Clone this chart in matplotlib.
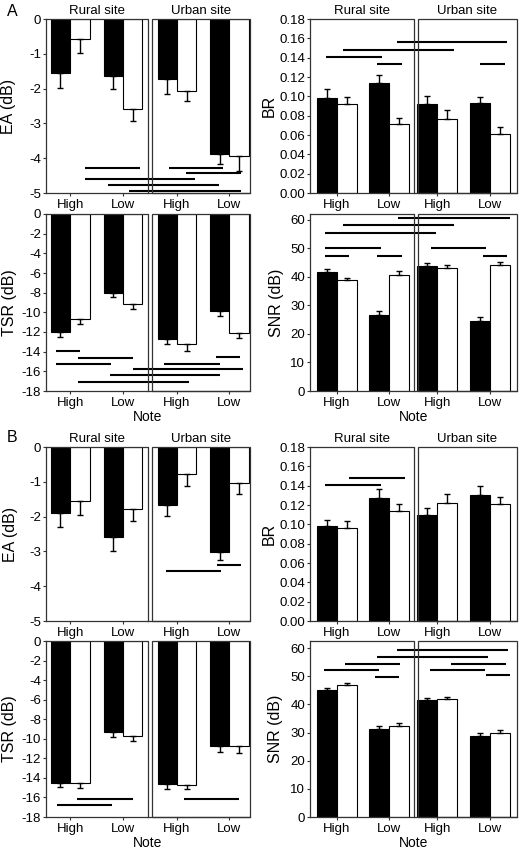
import numpy as np
import matplotlib.pyplot as plt
from matplotlib.patches import Rectangle
from matplotlib.transforms import blended_transform_factory

plt.rcParams['font.family'] = ['Liberation Sans', 'DejaVu Sans']
plt.rcParams['axes.unicode_minus'] = False

notes = ['High', 'Low', 'High', 'Low']
sites = ['Rural site', 'Urban site']

# group order: rural high, rural low, urban high, urban low
# black = first bar of each pair, white = second bar
a_ea_black = [-1.56, -1.64, -1.73, -3.88]
a_ea_black_err = [0.43, 0.37, 0.43, 0.29]
a_ea_white = [-0.575, -2.59, -2.06, -3.94]
a_ea_white_err = [0.40, 0.34, 0.29, 0.42]

a_br_black = [0.098, 0.114, 0.0923, 0.0933]
a_br_black_err = [0.010, 0.0084, 0.0085, 0.0065]
a_br_white = [0.092, 0.0717, 0.077, 0.0614]
a_br_white_err = [0.007, 0.0063, 0.0084, 0.0065]

a_tsr_black = [-12.02, -8.05, -12.67, -9.85]
a_tsr_black_err = [0.48, 0.44, 0.58, 0.48]
a_tsr_white = [-10.63, -9.17, -13.25, -12.06]
a_tsr_white_err = [0.58, 0.48, 0.64, 0.51]

a_snr_black = [41.7, 26.8, 44.0, 24.7]
a_snr_black_err = [1.2, 1.4, 1.0, 1.25]
a_snr_white = [38.8, 40.8, 43.1, 44.2]
a_snr_white_err = [0.9, 1.2, 1.1, 1.1]

b_ea_black = [-1.89, -2.58, -1.68, -3.01]
b_ea_black_err = [0.40, 0.41, 0.29, 0.25]
b_ea_white = [-1.54, -1.78, -0.77, -1.04]
b_ea_white_err = [0.40, 0.35, 0.34, 0.31]

b_br_black = [0.0983, 0.1268, 0.1098, 0.1303]
b_br_black_err = [0.0067, 0.0101, 0.0073, 0.0094]
b_br_white = [0.0966, 0.1143, 0.1216, 0.1206]
b_br_white_err = [0.0069, 0.007, 0.0101, 0.008]

b_tsr_black = [-14.49, -9.34, -14.66, -10.77]
b_tsr_black_err = [0.44, 0.48, 0.51, 0.58]
b_tsr_white = [-14.49, -9.75, -14.69, -10.77]
b_tsr_white_err = [0.51, 0.51, 0.48, 0.65]

b_snr_black = [45.2, 31.4, 41.4, 28.8]
b_snr_black_err = [0.7, 1.0, 1.0, 1.1]
b_snr_white = [47.0, 32.3, 41.8, 29.8]
b_snr_white_err = [0.6, 1.0, 0.9, 1.0]

# significance lines: (x start, x end, y)
a_ea_sig = [(2.01, 4.84, -4.27), (6.33, 9.11, -4.27), (7.21, 10.04, -4.43),
            (2.01, 7.67, -4.59), (3.19, 8.90, -4.77), (4.27, 10.04, -4.93)]
a_br_sig = [(4.42, 10.0, 0.1557), (1.68, 7.31, 0.148), (0.81, 3.65, 0.141),
            (3.40, 4.67, 0.133), (8.63, 9.90, 0.133)]
a_tsr_sig = [(0.51, 1.75, -13.93), (1.63, 4.48, -14.67), (0.51, 3.35, -15.25),
             (6.09, 8.96, -15.25), (8.75, 9.98, -14.57), (4.46, 10.15, -15.8),
             (3.29, 8.96, -16.4), (1.66, 7.37, -17.05)]
a_snr_sig = [(4.48, 10.12, 60.7), (1.66, 7.28, 58.2), (0.76, 6.38, 55.5),
             (0.76, 3.59, 50.3), (0.76, 2.0, 47.4), (3.39, 4.66, 47.4),
             (6.13, 8.93, 50.3), (8.77, 9.98, 47.2)]
b_ea_sig = [(6.16, 9.01, -3.57), (8.79, 10.02, -3.40)]
b_br_sig = [(0.76, 3.59, 0.1407), (2.0, 4.82, 0.1477)]
b_tsr_sig = [(1.58, 4.46, -16.13), (0.55, 3.38, -16.81), (7.12, 9.95, -16.2)]
b_snr_sig = [(4.40, 10.02, 59.2), (3.39, 9.02, 56.9), (1.78, 4.57, 54.4),
             (0.71, 3.52, 52.1), (3.30, 4.50, 49.6), (7.14, 9.95, 54.4),
             (6.09, 8.88, 52.3), (8.92, 10.12, 50.3)]

# layout (x in bar-width units)
centers_left = np.array([1.24, 3.96, 6.74, 9.44])
centers_right = np.array([1.37, 4.01, 6.45, 9.14])
box_left = (5.25, 5.46)
box_right = (5.28, 5.48)
XMAX = 10.5

fig = plt.figure(figsize=(5.26, 8.52), dpi=100)


def panel(rect, centers, box, black, black_err, white, white_err, sig,
          ylim, yticks, ylabel, fmt, label_x, titles=False, xlabel=False):
    ax = fig.add_axes(rect)
    ymin, ymax = ylim
    black = np.array(black)
    white = np.array(white)
    for vals, errs, x, fc in [(black, black_err, centers - 0.5, 'black'),
                              (white, white_err, centers + 0.5, 'white')]:
        errs = np.array(errs)
        lower = np.where(vals < 0, errs, 0)
        upper = np.where(vals < 0, 0, errs)
        ax.bar(x, vals, width=1.0, color=fc, edgecolor='black', linewidth=0.8, zorder=2)
        ax.errorbar(x, vals, yerr=np.vstack([lower, upper]), fmt='none',
                    ecolor='black', elinewidth=1.0, capsize=2.3, capthick=1.0, zorder=3)
    for x0, x1, y in sig:
        ax.plot([x0, x1], [y, y], color='black', lw=1.5, solid_capstyle='butt',
                zorder=4, clip_on=False)
    # site boxes
    ax.plot([0, box[0], box[0]], [ymax, ymax, ymin], color='0.2', lw=0.9,
            clip_on=False, zorder=5)
    ax.add_patch(Rectangle((box[1], ymin), XMAX - box[1], ymax - ymin, fill=False,
                           edgecolor='0.2', lw=0.9, clip_on=False, zorder=5))
    ax.set_xlim(0, XMAX)
    ax.set_ylim(ymin, ymax)
    for s in ['top', 'right']:
        ax.spines[s].set_visible(False)
    for s in ['left', 'bottom']:
        ax.spines[s].set_color('0.2')
        ax.spines[s].set_linewidth(0.9)
    ax.set_yticks(yticks)
    ax.set_yticklabels([fmt.format(v) for v in yticks])
    ax.set_xticks(centers)
    ax.set_xticklabels(notes)
    ax.tick_params(axis='both', labelsize=9.5, length=2.5, width=0.8, color='0.2', pad=1)
    ax.tick_params(axis='x', pad=1.5)
    ax.set_ylabel(ylabel, fontsize=11.5)
    # label_x: right edge of the rotated label, in figure pixels
    ax.yaxis.set_label_coords((label_x - rect[0] * 526) / (rect[2] * 526), 0.5)
    if xlabel:
        ax.set_xlabel('Note', fontsize=10, labelpad=1)
    if titles:
        tr = blended_transform_factory(ax.transData, ax.transAxes)
        ax.text(box[0] / 2, 1.012, sites[0], transform=tr, ha='center', va='bottom', fontsize=9.5)
        ax.text((box[1] + XMAX) / 2, 1.012, sites[1], transform=tr, ha='center', va='bottom', fontsize=9.5)
    return ax


L = [46 / 526, 204 / 526]
R = [310 / 526, 207 / 526]
rows = [(1 - 193 / 852, 174 / 852), (1 - 391 / 852, 177 / 852),
        (1 - 621 / 852, 174 / 852), (1 - 817 / 852, 176 / 852)]

ea_ticks = [0, -1, -2, -3, -4, -5]
br_ticks = np.arange(0, 0.181, 0.02)
tsr_ticks = list(range(0, -19, -2))
snr_ticks = list(range(0, 61, 10))

panel([L[0], rows[0][0], L[1], rows[0][1]], centers_left, box_left,
      a_ea_black, a_ea_black_err, a_ea_white, a_ea_white_err, a_ea_sig,
      (-5, 0), ea_ticks, 'EA (dB)', '{:g}', 16, titles=True)
panel([R[0], rows[0][0], R[1], rows[0][1]], centers_right, box_right,
      a_br_black, a_br_black_err, a_br_white, a_br_white_err, a_br_sig,
      (0, 0.18), br_ticks, 'BR', '{:.2f}', 277, titles=True)
panel([L[0], rows[1][0], L[1], rows[1][1]], centers_left, box_left,
      a_tsr_black, a_tsr_black_err, a_tsr_white, a_tsr_white_err, a_tsr_sig,
      (-18, 0), tsr_ticks, 'TSR (dB)', '{:g}', 17, xlabel=True)
panel([R[0], rows[1][0], R[1], rows[1][1]], centers_right, box_right,
      a_snr_black, a_snr_black_err, a_snr_white, a_snr_white_err, a_snr_sig,
      (0, 62.1), snr_ticks, 'SNR (dB)', '{:g}', 284, xlabel=True)

panel([L[0], rows[2][0], L[1], rows[2][1]], centers_left, box_left,
      b_ea_black, b_ea_black_err, b_ea_white, b_ea_white_err, b_ea_sig,
      (-5, 0), ea_ticks, 'EA (dB)', '{:g}', 18, titles=True)
panel([R[0], rows[2][0], R[1], rows[2][1]], centers_right, box_right,
      b_br_black, b_br_black_err, b_br_white, b_br_white_err, b_br_sig,
      (0, 0.18), br_ticks, 'BR', '{:.2f}', 277, titles=True)
panel([L[0], rows[3][0], L[1], rows[3][1]], centers_left, box_left,
      b_tsr_black, b_tsr_black_err, b_tsr_white, b_tsr_white_err, b_tsr_sig,
      (-18, 0), tsr_ticks, 'TSR (dB)', '{:g}', 17, xlabel=True)
panel([R[0], rows[3][0], R[1], rows[3][1]], centers_right, box_right,
      b_snr_black, b_snr_black_err, b_snr_white, b_snr_white_err, b_snr_sig,
      (0, 62.5), snr_ticks, 'SNR (dB)', '{:g}', 283, xlabel=True)

fig.text(7 / 526, 1 - 12 / 852, 'A', fontsize=11.5, ha='left', va='center')
fig.text(7 / 526, 1 - 437 / 852, 'B', fontsize=11.5, ha='left', va='center')

fig.savefig('out.png', dpi=100)
plt.close(fig)
